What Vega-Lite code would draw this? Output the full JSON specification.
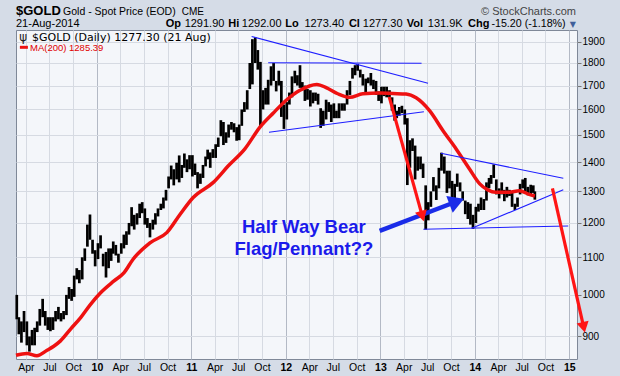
{
"$schema": "https://vega.github.io/schema/vega-lite/v6.json",
"width": 561, "height": 329,
"autosize": {"type": "none"},
"padding": {"left": 16, "top": 30, "right": 43, "bottom": 17},
"background": "#d5dce7",
"config": {"view": {"fill": "#f4f6fa", "stroke": "#7f8898", "strokeWidth": 1}, "font": "Liberation Sans"},
"datasets": {
"px": [
{"d":"2009-02-25","l":940,"h":1000},{"d":"2009-03-05","l":905,"h":945},{"d":"2009-03-15","l":886,"h":935},{"d":"2009-03-25","l":910,"h":960},
{"d":"2009-04-05","l":880,"h":935},{"d":"2009-04-15","l":866,"h":900},{"d":"2009-04-25","l":880,"h":915},
{"d":"2009-05-05","l":880,"h":920},{"d":"2009-05-15","l":910,"h":935},{"d":"2009-05-25","l":925,"h":965},
{"d":"2009-06-05","l":945,"h":990},{"d":"2009-06-15","l":925,"h":960},{"d":"2009-06-25","l":915,"h":945},
{"d":"2009-07-05","l":912,"h":945},{"d":"2009-07-15","l":915,"h":945},{"d":"2009-07-25","l":935,"h":960},
{"d":"2009-08-05","l":940,"h":970},{"d":"2009-08-15","l":935,"h":955},{"d":"2009-08-25","l":940,"h":960},
{"d":"2009-09-05","l":950,"h":1000},{"d":"2009-09-15","l":990,"h":1020},{"d":"2009-09-25","l":985,"h":1015},
{"d":"2009-10-05","l":995,"h":1050},{"d":"2009-10-15","l":1040,"h":1070},{"d":"2009-10-25","l":1030,"h":1065},
{"d":"2009-11-05","l":1040,"h":1100},{"d":"2009-11-15","l":1090,"h":1125},{"d":"2009-11-25","l":1130,"h":1195},
{"d":"2009-12-05","l":1150,"h":1226},{"d":"2009-12-15","l":1110,"h":1150},{"d":"2009-12-25","l":1075,"h":1120},
{"d":"2010-01-05","l":1095,"h":1140},{"d":"2010-01-15","l":1125,"h":1163},{"d":"2010-01-25","l":1075,"h":1110},
{"d":"2010-02-05","l":1045,"h":1115},{"d":"2010-02-15","l":1070,"h":1125},{"d":"2010-02-25","l":1090,"h":1125},
{"d":"2010-03-05","l":1110,"h":1145},{"d":"2010-03-15","l":1105,"h":1135},{"d":"2010-03-25","l":1085,"h":1110},
{"d":"2010-04-05","l":1110,"h":1140},{"d":"2010-04-15","l":1125,"h":1165},{"d":"2010-04-25","l":1135,"h":1175},
{"d":"2010-05-05","l":1165,"h":1200},{"d":"2010-05-15","l":1190,"h":1249},{"d":"2010-05-25","l":1180,"h":1225},
{"d":"2010-06-05","l":1195,"h":1230},{"d":"2010-06-15","l":1215,"h":1260},{"d":"2010-06-25","l":1230,"h":1265},
{"d":"2010-07-05","l":1195,"h":1245},{"d":"2010-07-15","l":1185,"h":1215},{"d":"2010-07-25","l":1157,"h":1200},
{"d":"2010-08-05","l":1180,"h":1210},{"d":"2010-08-15","l":1195,"h":1230},{"d":"2010-08-25","l":1220,"h":1245},
{"d":"2010-09-05","l":1240,"h":1260},{"d":"2010-09-15","l":1245,"h":1280},{"d":"2010-09-25","l":1270,"h":1305},
{"d":"2010-10-05","l":1310,"h":1350},{"d":"2010-10-15","l":1340,"h":1388},{"d":"2010-10-25","l":1320,"h":1375},
{"d":"2010-11-05","l":1340,"h":1398},{"d":"2010-11-15","l":1330,"h":1424},{"d":"2010-11-25","l":1345,"h":1390},
{"d":"2010-12-05","l":1380,"h":1431},{"d":"2010-12-15","l":1365,"h":1410},{"d":"2010-12-25","l":1375,"h":1425},
{"d":"2011-01-05","l":1350,"h":1425},{"d":"2011-01-15","l":1355,"h":1395},{"d":"2011-01-25","l":1310,"h":1365},
{"d":"2011-02-05","l":1325,"h":1360},{"d":"2011-02-15","l":1345,"h":1390},{"d":"2011-02-25","l":1385,"h":1420},
{"d":"2011-03-05","l":1410,"h":1445},{"d":"2011-03-15","l":1380,"h":1435},{"d":"2011-03-25","l":1415,"h":1447},
{"d":"2011-04-05","l":1415,"h":1465},{"d":"2011-04-15","l":1455,"h":1490},{"d":"2011-04-25","l":1495,"h":1557},
{"d":"2011-05-05","l":1462,"h":1550},{"d":"2011-05-15","l":1470,"h":1510},{"d":"2011-05-25","l":1490,"h":1540},
{"d":"2011-06-05","l":1520,"h":1550},{"d":"2011-06-15","l":1510,"h":1545},{"d":"2011-06-25","l":1478,"h":1530},
{"d":"2011-07-05","l":1480,"h":1540},{"d":"2011-07-15","l":1535,"h":1600},{"d":"2011-07-25","l":1590,"h":1630},
{"d":"2011-08-05","l":1600,"h":1680},{"d":"2011-08-15","l":1685,"h":1800},{"d":"2011-08-25","l":1705,"h":1912},
{"d":"2011-09-05","l":1800,"h":1921},{"d":"2011-09-15","l":1770,"h":1860},{"d":"2011-09-25","l":1535,"h":1805},
{"d":"2011-10-05","l":1600,"h":1680},{"d":"2011-10-15","l":1620,"h":1690},{"d":"2011-10-25","l":1620,"h":1725},
{"d":"2011-11-05","l":1700,"h":1785},{"d":"2011-11-15","l":1720,"h":1800},{"d":"2011-11-25","l":1675,"h":1720},
{"d":"2011-12-05","l":1700,"h":1765},{"d":"2011-12-15","l":1570,"h":1720},{"d":"2011-12-25","l":1523,"h":1620},
{"d":"2012-01-05","l":1560,"h":1630},{"d":"2012-01-15","l":1620,"h":1670},{"d":"2012-01-25","l":1650,"h":1740},
{"d":"2012-02-05","l":1710,"h":1765},{"d":"2012-02-15","l":1700,"h":1745},{"d":"2012-02-25","l":1690,"h":1790},
{"d":"2012-03-05","l":1680,"h":1715},{"d":"2012-03-15","l":1635,"h":1700},{"d":"2012-03-25","l":1640,"h":1685},
{"d":"2012-04-05","l":1612,"h":1680},{"d":"2012-04-15","l":1625,"h":1670},{"d":"2012-04-25","l":1635,"h":1670},
{"d":"2012-05-05","l":1620,"h":1665},{"d":"2012-05-15","l":1527,"h":1605},{"d":"2012-05-25","l":1535,"h":1595},
{"d":"2012-06-05","l":1560,"h":1640},{"d":"2012-06-15","l":1590,"h":1630},{"d":"2012-06-25","l":1550,"h":1620},
{"d":"2012-07-05","l":1565,"h":1625},{"d":"2012-07-15","l":1565,"h":1595},{"d":"2012-07-25","l":1565,"h":1625},
{"d":"2012-08-05","l":1595,"h":1625},{"d":"2012-08-15","l":1595,"h":1625},{"d":"2012-08-25","l":1620,"h":1680},
{"d":"2012-09-05","l":1660,"h":1720},{"d":"2012-09-15","l":1730,"h":1778},{"d":"2012-09-25","l":1745,"h":1790},
{"d":"2012-10-05","l":1765,"h":1796},{"d":"2012-10-15","l":1735,"h":1770},{"d":"2012-10-25","l":1700,"h":1750},
{"d":"2012-11-05","l":1672,"h":1730},{"d":"2012-11-15","l":1710,"h":1735},{"d":"2012-11-25","l":1700,"h":1755},
{"d":"2012-12-05","l":1685,"h":1725},{"d":"2012-12-15","l":1660,"h":1720},{"d":"2012-12-25","l":1635,"h":1675},
{"d":"2013-01-05","l":1625,"h":1695},{"d":"2013-01-15","l":1655,"h":1695},{"d":"2013-01-25","l":1650,"h":1695},
{"d":"2013-02-05","l":1650,"h":1680},{"d":"2013-02-15","l":1595,"h":1650},{"d":"2013-02-25","l":1555,"h":1620},
{"d":"2013-03-05","l":1565,"h":1595},{"d":"2013-03-15","l":1575,"h":1610},{"d":"2013-03-25","l":1585,"h":1615},
{"d":"2013-04-05","l":1540,"h":1600},{"d":"2013-04-15","l":1321,"h":1565},{"d":"2013-04-25","l":1380,"h":1480},
{"d":"2013-05-05","l":1440,"h":1487},{"d":"2013-05-15","l":1340,"h":1460},{"d":"2013-05-25","l":1370,"h":1420},
{"d":"2013-06-05","l":1375,"h":1420},{"d":"2013-06-15","l":1345,"h":1395},{"d":"2013-06-25","l":1180,"h":1320},
{"d":"2013-07-05","l":1208,"h":1265},{"d":"2013-07-15","l":1250,"h":1300},{"d":"2013-07-25","l":1300,"h":1348},
{"d":"2013-08-05","l":1272,"h":1320},{"d":"2013-08-15","l":1310,"h":1380},{"d":"2013-08-25","l":1370,"h":1434},
{"d":"2013-09-05","l":1360,"h":1420},{"d":"2013-09-15","l":1295,"h":1370},{"d":"2013-09-25","l":1310,"h":1370},
{"d":"2013-10-05","l":1280,"h":1335},{"d":"2013-10-15","l":1251,"h":1325},{"d":"2013-10-25","l":1315,"h":1360},
{"d":"2013-11-05","l":1300,"h":1330},{"d":"2013-11-15","l":1270,"h":1300},{"d":"2013-11-25","l":1227,"h":1270},
{"d":"2013-12-05","l":1212,"h":1265},{"d":"2013-12-15","l":1195,"h":1260},{"d":"2013-12-25","l":1182,"h":1225},
{"d":"2014-01-05","l":1200,"h":1250},{"d":"2014-01-15","l":1235,"h":1260},{"d":"2014-01-25","l":1240,"h":1280},
{"d":"2014-02-05","l":1240,"h":1275},{"d":"2014-02-15","l":1270,"h":1330},{"d":"2014-02-25","l":1310,"h":1345},
{"d":"2014-03-05","l":1325,"h":1355},{"d":"2014-03-15","l":1345,"h":1392},{"d":"2014-03-25","l":1290,"h":1340},
{"d":"2014-04-05","l":1277,"h":1310},{"d":"2014-04-15","l":1290,"h":1330},{"d":"2014-04-25","l":1268,"h":1305},
{"d":"2014-05-05","l":1280,"h":1315},{"d":"2014-05-15","l":1285,"h":1305},{"d":"2014-05-25","l":1250,"h":1295},
{"d":"2014-06-05","l":1240,"h":1260},{"d":"2014-06-15","l":1250,"h":1280},{"d":"2014-06-25","l":1290,"h":1325},
{"d":"2014-07-05","l":1310,"h":1340},{"d":"2014-07-15","l":1295,"h":1345},{"d":"2014-07-25","l":1287,"h":1315},
{"d":"2014-08-05","l":1285,"h":1322},{"d":"2014-08-15","l":1295,"h":1320},{"d":"2014-08-21","l":1273,"h":1300}
],
"ma": [
{"d":"2009-02-22","p":858},{"d":"2009-04-05","p":862},{"d":"2009-05-14","p":857},{"d":"2009-06-22","p":869},
{"d":"2009-07-18","p":878},{"d":"2009-08-13","p":890},{"d":"2009-09-21","p":917},{"d":"2009-10-30","p":944},
{"d":"2009-12-08","p":977},{"d":"2010-01-16","p":1006},{"d":"2010-03-08","p":1036},{"d":"2010-04-16","p":1058},
{"d":"2010-05-20","p":1094},{"d":"2010-07-25","p":1141},{"d":"2010-09-28","p":1171},{"d":"2010-11-18","p":1226},
{"d":"2011-01-08","p":1280},{"d":"2011-03-27","p":1330},{"d":"2011-05-24","p":1387},{"d":"2011-07-27","p":1448},
{"d":"2011-09-24","p":1531},{"d":"2011-11-14","p":1586},{"d":"2012-01-05","p":1640},{"d":"2012-02-25","p":1680},
{"d":"2012-04-30","p":1705},{"d":"2012-06-07","p":1690},{"d":"2012-07-20","p":1665},{"d":"2012-09-04","p":1650},
{"d":"2012-10-25","p":1665},{"d":"2012-12-29","p":1668},{"d":"2013-02-18","p":1666},{"d":"2013-04-10","p":1664},
{"d":"2013-05-19","p":1648},{"d":"2013-07-10","p":1595},{"d":"2013-08-31","p":1516},{"d":"2013-10-22","p":1446},
{"d":"2013-12-12","p":1375},{"d":"2014-01-20","p":1325},{"d":"2014-02-20","p":1305},{"d":"2014-03-23","p":1297},
{"d":"2014-05-14","p":1297},{"d":"2014-06-22","p":1302},{"d":"2014-07-30","p":1290},{"d":"2014-08-21","p":1285}
],
"tl": [
{"g":1,"d":"2011-08-22","p":1925},{"g":1,"d":"2013-07-04","p":1710},
{"g":2,"d":"2011-10-25","p":1801},{"g":2,"d":"2013-06-09","p":1799},
{"g":3,"d":"2011-10-28","p":1510},{"g":3,"d":"2013-06-18","p":1591},
{"g":4,"d":"2013-08-23","p":1432},{"g":4,"d":"2014-12-09","p":1344},
{"g":5,"d":"2013-06-16","p":1181},{"g":5,"d":"2014-12-28","p":1191},
{"g":6,"d":"2013-12-20","p":1184},{"g":6,"d":"2014-12-09","p":1305}
],
"ra": [
{"g":"A","d":"2013-02-04","p":1652},{"g":"A","d":"2013-06-12","p":1221},
{"g":"B","d":"2014-10-28","p":1310},{"g":"B","d":"2015-02-26","p":921}
],
"ba": [
{"d":"2012-12-29","p":1176},{"d":"2013-10-23","p":1267}
],
"notes": [
{"d":"2012-03-11","p":1187,"t":"Half Way Bear"},
{"d":"2012-03-11","p":1124,"t":"Flag/Pennant??"}
]
},
"layer": [
{"data": {"name": "px"},
 "mark": {"type": "rule", "color": "#000000", "strokeWidth": 2.7},
 "encoding": {
  "x": {"field": "d", "type": "temporal", "title": null,
        "scale": {"domain": [{"year":2009,"month":2,"date":22},{"year":2015,"month":1,"date":31}], "nice": false, "padding": 0},
        "axis": {"orient": "bottom", "domain": false, "tickSize": 0, "labelPadding": 3,
                 "tickCount": {"interval": "month", "step": 3},
                 "labelExpr": "month(datum.value)==0 ? timeFormat(datum.value,'%y') : timeFormat(datum.value,'%b')",
                 "labelFontWeight": {"condition": {"test": "month(datum.value)==0", "value": "bold"}, "value": "normal"},
                 "labelFontSize": 10.5, "labelColor": "#000000", "labelFont": "Liberation Sans",
                 "labelFlush": false, "labelOverlap": false, "grid": true,
                 "gridColor": {"condition": {"test": "month(datum.value)==0", "value": "#b3b9c5"}, "value": "#d6dae2"}}},
  "y": {"field": "l", "type": "quantitative", "title": null,
        "scale": {"type": "log", "domain": [850, 1957], "nice": false, "padding": 0},
        "axis": {"orient": "right", "values": [900,1000,1100,1200,1300,1400,1500,1600,1700,1800,1900], "format": "d",
                 "domain": false, "tickSize": 4, "tickColor": "#777777", "labelPadding": 1,
                 "labelFontSize": 10, "labelColor": "#000000", "labelFont": "Liberation Sans",
                 "grid": true, "gridColor": "#d6dae2"}},
  "y2": {"field": "h"}
 }},
{"data": {"name": "ma"},
 "mark": {"type": "line", "color": "#ee1111", "strokeWidth": 3.5, "interpolate": "monotone"},
 "encoding": {
  "x": {"field": "d", "type": "temporal", "title": null, "scale": {"domain": [{"year":2009,"month":2,"date":22},{"year":2015,"month":1,"date":31}], "nice": false, "padding": 0}},
  "y": {"field": "p", "type": "quantitative", "title": null, "scale": {"type": "log", "domain": [850, 1957], "nice": false, "padding": 0}}
 }},
{"data": {"name": "tl"},
 "mark": {"type": "line", "color": "#1e1eff", "strokeWidth": 1.1},
 "encoding": {
  "x": {"field": "d", "type": "temporal", "title": null, "scale": {"domain": [{"year":2009,"month":2,"date":22},{"year":2015,"month":1,"date":31}], "nice": false, "padding": 0}},
  "y": {"field": "p", "type": "quantitative", "title": null, "scale": {"type": "log", "domain": [850, 1957], "nice": false, "padding": 0}},
  "detail": {"field": "g"}
 }},
{"data": {"name": "ra"},
 "mark": {"type": "line", "color": "#ff1515", "strokeWidth": 3.2},
 "encoding": {
  "x": {"field": "d", "type": "temporal", "title": null, "scale": {"domain": [{"year":2009,"month":2,"date":22},{"year":2015,"month":1,"date":31}], "nice": false, "padding": 0}},
  "y": {"field": "p", "type": "quantitative", "title": null, "scale": {"type": "log", "domain": [850, 1957], "nice": false, "padding": 0}},
  "detail": {"field": "g"}
 }},
{"data": {"name": "ba"},
 "mark": {"type": "line", "color": "#1a2ce8", "strokeWidth": 4.5},
 "encoding": {
  "x": {"field": "d", "type": "temporal", "title": null, "scale": {"domain": [{"year":2009,"month":2,"date":22},{"year":2015,"month":1,"date":31}], "nice": false, "padding": 0}},
  "y": {"field": "p", "type": "quantitative", "title": null, "scale": {"type": "log", "domain": [850, 1957], "nice": false, "padding": 0}}
 }},
{"data": {"values": [{}]},
 "mark": {"type": "point", "shape": "triangle-up", "filled": true, "color": "#ff1515", "opacity": 1, "size": 150, "angle": 164.5},
 "encoding": {
  "x": {"datum": {"year":2013,"month":6,"date":12}, "type": "temporal", "title": null},
  "y": {"datum": 1221, "type": "quantitative", "title": null}
 }},
{"data": {"values": [{}]},
 "mark": {"type": "point", "shape": "triangle-up", "filled": true, "color": "#ff1515", "opacity": 1, "size": 150, "angle": 167.5},
 "encoding": {
  "x": {"datum": {"year":2015,"month":2,"date":26}, "type": "temporal", "title": null},
  "y": {"datum": 921, "type": "quantitative", "title": null}
 }},
{"data": {"values": [{}]},
 "mark": {"type": "point", "shape": "triangle-up", "filled": true, "color": "#1a2ce8", "opacity": 1, "size": 320, "angle": 69},
 "encoding": {
  "x": {"datum": {"year":2013,"month":10,"date":23}, "type": "temporal", "title": null},
  "y": {"datum": 1267, "type": "quantitative", "title": null}
 }},
{"data": {"name": "notes"},
 "mark": {"type": "text", "font": "Liberation Sans", "fontSize": 18.5, "fontWeight": "bold", "color": "#1a1aeb", "align": "center", "baseline": "middle"},
 "encoding": {
  "x": {"field": "d", "type": "temporal", "title": null},
  "y": {"field": "p", "type": "quantitative", "title": null},
  "text": {"field": "t"}
 }},
{"data": {"values": [{}]},
 "mark": {"type": "text", "text": "$GOLD", "font": "Liberation Sans", "fontSize": 13, "fontWeight": "bold", "color": "#000000", "align": "left", "baseline": "alphabetic"},
 "encoding": {"x": {"datum": {"year":2009,"month":2,"date":22}, "type": "temporal", "title": null}, "y": {"datum": 2033, "type": "quantitative", "title": null}}},
{"data": {"values": [{}]},
 "mark": {"type": "text", "text": "Gold - Spot Price (EOD)", "font": "Liberation Sans", "fontSize": 10.5, "color": "#000000", "align": "left", "baseline": "alphabetic"},
 "encoding": {"x": {"datum": {"year":2009,"month":8,"date":23}, "type": "temporal", "title": null}, "y": {"datum": 2033, "type": "quantitative", "title": null}}},
{"data": {"values": [{}]},
 "mark": {"type": "text", "text": "CME", "font": "Liberation Sans", "fontSize": 10, "color": "#000000", "align": "left", "baseline": "alphabetic"},
 "encoding": {"x": {"datum": {"year":2010,"month":11,"date":25}, "type": "temporal", "title": null}, "y": {"datum": 2033, "type": "quantitative", "title": null}}},
{"data": {"values": [{}]},
 "mark": {"type": "text", "text": "© StockCharts.com", "font": "Liberation Sans", "fontSize": 11, "color": "#444444", "align": "right", "baseline": "alphabetic"},
 "encoding": {"x": {"datum": {"year":2015,"month":1,"date":27}, "type": "temporal", "title": null}, "y": {"datum": 2033, "type": "quantitative", "title": null}}},
{"data": {"values": [{}]},
 "mark": {"type": "text", "text": "21-Aug-2014", "font": "Liberation Sans", "fontSize": 11, "color": "#000000", "align": "left", "baseline": "alphabetic"},
 "encoding": {"x": {"datum": {"year":2009,"month":2,"date":22}, "type": "temporal", "title": null}, "y": {"datum": 1972, "type": "quantitative", "title": null}}},
{"data": {"values": [{}]},
 "mark": {"type": "text", "text": "Op", "font": "Liberation Sans", "fontSize": 11, "fontWeight": "bold", "color": "#000000", "align": "left", "baseline": "alphabetic"},
 "encoding": {"x": {"datum": {"year":2010,"month":9,"date":24}, "type": "temporal", "title": null}, "y": {"datum": 1972, "type": "quantitative", "title": null}}},
{"data": {"values": [{}]},
 "mark": {"type": "text", "text": "1291.90", "font": "Liberation Sans", "fontSize": 11, "color": "#000000", "align": "left", "baseline": "alphabetic"},
 "encoding": {"x": {"datum": {"year":2010,"month":12,"date":6}, "type": "temporal", "title": null}, "y": {"datum": 1972, "type": "quantitative", "title": null}}},
{"data": {"values": [{}]},
 "mark": {"type": "text", "text": "Hi", "font": "Liberation Sans", "fontSize": 11, "fontWeight": "bold", "color": "#000000", "align": "left", "baseline": "alphabetic"},
 "encoding": {"x": {"datum": {"year":2011,"month":5,"date":24}, "type": "temporal", "title": null}, "y": {"datum": 1972, "type": "quantitative", "title": null}}},
{"data": {"values": [{}]},
 "mark": {"type": "text", "text": "1292.00", "font": "Liberation Sans", "fontSize": 11, "color": "#000000", "align": "left", "baseline": "alphabetic"},
 "encoding": {"x": {"datum": {"year":2011,"month":7,"date":15}, "type": "temporal", "title": null}, "y": {"datum": 1972, "type": "quantitative", "title": null}}},
{"data": {"values": [{}]},
 "mark": {"type": "text", "text": "Lo", "font": "Liberation Sans", "fontSize": 11, "fontWeight": "bold", "color": "#000000", "align": "left", "baseline": "alphabetic"},
 "encoding": {"x": {"datum": {"year":2011,"month":12,"date":30}, "type": "temporal", "title": null}, "y": {"datum": 1972, "type": "quantitative", "title": null}}},
{"data": {"values": [{}]},
 "mark": {"type": "text", "text": "1273.40", "font": "Liberation Sans", "fontSize": 11, "color": "#000000", "align": "left", "baseline": "alphabetic"},
 "encoding": {"x": {"datum": {"year":2012,"month":3,"date":13}, "type": "temporal", "title": null}, "y": {"datum": 1972, "type": "quantitative", "title": null}}},
{"data": {"values": [{}]},
 "mark": {"type": "text", "text": "Cl", "font": "Liberation Sans", "fontSize": 11, "fontWeight": "bold", "color": "#000000", "align": "left", "baseline": "alphabetic"},
 "encoding": {"x": {"datum": {"year":2012,"month":9,"date":1}, "type": "temporal", "title": null}, "y": {"datum": 1972, "type": "quantitative", "title": null}}},
{"data": {"values": [{}]},
 "mark": {"type": "text", "text": "1277.30", "font": "Liberation Sans", "fontSize": 11, "color": "#000000", "align": "left", "baseline": "alphabetic"},
 "encoding": {"x": {"datum": {"year":2012,"month":10,"date":25}, "type": "temporal", "title": null}, "y": {"datum": 1972, "type": "quantitative", "title": null}}},
{"data": {"values": [{}]},
 "mark": {"type": "text", "text": "Vol", "font": "Liberation Sans", "fontSize": 11, "fontWeight": "bold", "color": "#000000", "align": "left", "baseline": "alphabetic"},
 "encoding": {"x": {"datum": {"year":2013,"month":4,"date":13}, "type": "temporal", "title": null}, "y": {"datum": 1972, "type": "quantitative", "title": null}}},
{"data": {"values": [{}]},
 "mark": {"type": "text", "text": "131.9K", "font": "Liberation Sans", "fontSize": 11, "color": "#000000", "align": "left", "baseline": "alphabetic"},
 "encoding": {"x": {"datum": {"year":2013,"month":7,"date":3}, "type": "temporal", "title": null}, "y": {"datum": 1972, "type": "quantitative", "title": null}}},
{"data": {"values": [{}]},
 "mark": {"type": "text", "text": "Chg", "font": "Liberation Sans", "fontSize": 11, "fontWeight": "bold", "color": "#000000", "align": "left", "baseline": "alphabetic"},
 "encoding": {"x": {"datum": {"year":2013,"month":12,"date":6}, "type": "temporal", "title": null}, "y": {"datum": 1972, "type": "quantitative", "title": null}}},
{"data": {"values": [{}]},
 "mark": {"type": "text", "text": "-15.20 (-1.18%)", "font": "Liberation Sans", "fontSize": 10.7, "color": "#000000", "align": "left", "baseline": "alphabetic"},
 "encoding": {"x": {"datum": {"year":2014,"month":3,"date":6}, "type": "temporal", "title": null}, "y": {"datum": 1972, "type": "quantitative", "title": null}}},
{"data": {"values": [{}]},
 "mark": {"type": "text", "text": "▼", "font": "DejaVu Sans", "fontSize": 8, "color": "#3f5f9a", "align": "center", "baseline": "alphabetic"},
 "encoding": {"x": {"datum": {"year":2015,"month":1,"date":15}, "type": "temporal", "title": null}, "y": {"datum": 1972, "type": "quantitative", "title": null}}},
{"data": {"values": [{}]},
 "mark": {"type": "text", "text": "ψ", "font": "DejaVu Sans", "fontSize": 12, "color": "#222222", "align": "left", "baseline": "alphabetic"},
 "encoding": {"x": {"datum": {"year":2009,"month":3,"date":7}, "type": "temporal", "title": null}, "y": {"datum": 1905, "type": "quantitative", "title": null}}},
{"data": {"values": [{}]},
 "mark": {"type": "text", "text": "$GOLD (Daily) 1277.30 (21 Aug)", "font": "DejaVu Sans", "fontSize": 11, "color": "#000000", "align": "left", "baseline": "alphabetic"},
 "encoding": {"x": {"datum": {"year":2009,"month":4,"date":25}, "type": "temporal", "title": null}, "y": {"datum": 1905, "type": "quantitative", "title": null}}},
{"data": {"values": [{}]},
 "mark": {"type": "rule", "color": "#ee1111", "strokeWidth": 3},
 "encoding": {"x": {"datum": {"year":2009,"month":3,"date":9}, "type": "temporal", "title": null}, "x2": {"datum": {"year":2009,"month":4,"date":9}}, "y": {"datum": 1873, "type": "quantitative", "title": null}}},
{"data": {"values": [{}]},
 "mark": {"type": "text", "text": "MA(200) 1285.39", "font": "Liberation Sans", "fontSize": 9.5, "color": "#e00000", "align": "left", "baseline": "alphabetic"},
 "encoding": {"x": {"datum": {"year":2009,"month":4,"date":17}, "type": "temporal", "title": null}, "y": {"datum": 1855, "type": "quantitative", "title": null}}}
]
}
